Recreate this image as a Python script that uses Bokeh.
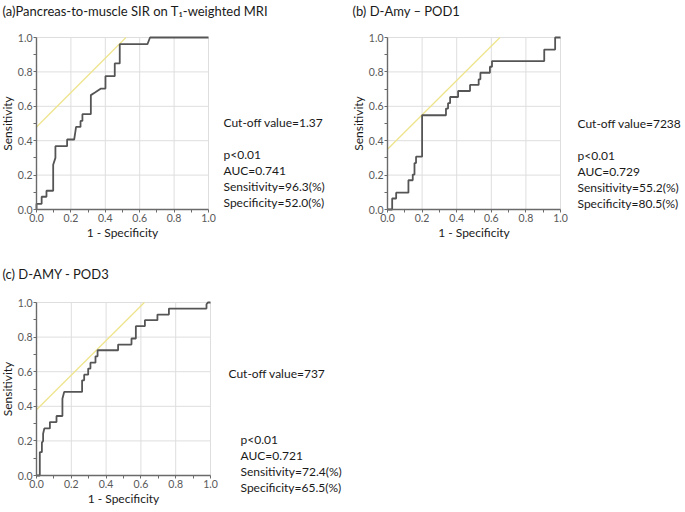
from bokeh.plotting import figure
from bokeh.models import Range1d, FixedTicker, Label
from bokeh.layouts import column, row
from bokeh.embed import file_html
from bokeh.resources import INLINE

# ---------------- data ----------------
tick_vals = [0.0, 0.2, 0.4, 0.6, 0.8, 1.0]
tick_labels = ["0.0", "0.2", "0.4", "0.6", "0.8", "1.0"]
minor_vals = [0.1, 0.3, 0.5, 0.7, 0.9]

x_label = "1 - Specificity"
y_label = "Sensitivity"

# panel (a)
a_title = "(a)Pancreas-to-muscle SIR on T\u2081-weighted MRI"
a_fpr = [0.0, 0.0, 0.03, 0.03, 0.058, 0.058, 0.097, 0.097, 0.11, 0.11, 0.178, 0.178,
         0.219, 0.225, 0.23, 0.256, 0.256, 0.267, 0.267, 0.316, 0.316, 0.34, 0.375,
         0.401, 0.401, 0.455, 0.455, 0.484, 0.484, 0.645, 0.66, 1.0]
a_tpr = [0.0, 0.033, 0.033, 0.074, 0.074, 0.109, 0.109, 0.26, 0.30, 0.368, 0.368, 0.407,
         0.407, 0.446, 0.48, 0.48, 0.515, 0.515, 0.554, 0.554, 0.665, 0.68, 0.703,
         0.703, 0.775, 0.775, 0.849, 0.849, 0.961, 0.961, 1.0, 1.0]
a_tan_x = [0.0, 0.52]
a_tan_y = [0.48, 1.0]
a_cutoff = "Cut-off value=1.37"
a_stats = ["p<0.01", "AUC=0.741", "Sensitivity=96.3(%)", "Specificity=52.0(%)"]

# panel (b)
b_title = "(b) D-Amy \u2013 POD1"
b_fpr = [0.0, 0.027, 0.027, 0.05, 0.05, 0.121, 0.121, 0.146, 0.146, 0.156, 0.156, 0.165,
         0.165, 0.2, 0.2, 0.338, 0.338, 0.35, 0.35, 0.362, 0.362, 0.408, 0.408, 0.477,
         0.477, 0.527, 0.527, 0.537, 0.537, 0.592, 0.592, 0.604, 0.604, 0.906, 0.906,
         0.969, 0.969, 1.0]
b_tpr = [0.0, 0.0, 0.064, 0.064, 0.098, 0.098, 0.17, 0.17, 0.203, 0.203, 0.27, 0.27,
         0.307, 0.307, 0.548, 0.548, 0.587, 0.587, 0.618, 0.618, 0.654, 0.654, 0.689,
         0.689, 0.724, 0.724, 0.757, 0.757, 0.795, 0.795, 0.83, 0.83, 0.863, 0.863,
         0.93, 0.93, 1.0, 1.0]
b_tan_x = [0.0, 0.65]
b_tan_y = [0.35, 1.0]
b_cutoff = "Cut-off value=7238"
b_stats = ["p<0.01", "AUC=0.729", "Sensitivity=55.2(%)", "Specificity=80.5(%)"]

# panel (c)
c_title = "(c) D-AMY - POD3"
c_fpr = [0.0, 0.019, 0.019, 0.031, 0.031, 0.038, 0.038, 0.045, 0.077, 0.077, 0.115,
         0.115, 0.149, 0.149, 0.159, 0.262, 0.262, 0.274, 0.274, 0.297, 0.297, 0.31,
         0.31, 0.339, 0.339, 0.351, 0.351, 0.469, 0.469, 0.546, 0.546, 0.571, 0.571,
         0.623, 0.623, 0.695, 0.695, 0.761, 0.761, 0.977, 0.977, 0.985, 1.0]
c_tpr = [0.0, 0.0, 0.135, 0.135, 0.19, 0.20, 0.241, 0.272, 0.272, 0.309, 0.309,
         0.344, 0.344, 0.444, 0.483, 0.483, 0.55, 0.55, 0.583, 0.583, 0.618, 0.618,
         0.652, 0.652, 0.689, 0.689, 0.724, 0.724, 0.757, 0.757, 0.792, 0.792, 0.863,
         0.863, 0.898, 0.898, 0.93, 0.93, 0.965, 0.965, 0.99, 1.0, 1.0]
c_tan_x = [0.0, 0.62]
c_tan_y = [0.38, 1.0]
c_cutoff = "Cut-off value=737"
c_stats = ["p<0.01", "AUC=0.721", "Sensitivity=72.4(%)", "Specificity=65.5(%)"]

# ---------------- styling ----------------
FONT = "Lato"
AXIS_COL = "#6a6a6a"
GRID_COL = "#dedede"
CURVE_COL = "#555555"
TAN_COL = "#eee48c"
TEXT_COL = "#1a1a1a"
TEXT_SIZE = "12px"
TITLE_SIZE = "13px"


def roc_panel(fpr, tpr, tx, ty, fig_w, fig_h, box, texts):
    """box = (left, top, width, height) of the unit square, in canvas pixels.
    The whole canvas is the frame; the axes are fixed at 0 and bounded to [0, 1]."""
    L, T, W, H = box
    x_rng = Range1d(-L / W, (fig_w - L) / W)
    y_rng = Range1d(-(fig_h - T - H) / H, (T + H) / H)
    p = figure(width=fig_w, height=fig_h, output_backend="svg", toolbar_location=None,
               tools="", x_range=x_rng, y_range=y_rng, min_border=0)
    p.background_fill_color = "white"
    p.border_fill_color = "white"
    p.outline_line_color = None
    p.xgrid.visible = False
    p.ygrid.visible = False

    # grid lines at the tick positions, kept inside the unit square
    gx = tick_vals[1:]
    p.segment(x0=gx, y0=[0] * len(gx), x1=gx, y1=[1] * len(gx),
              line_color=GRID_COL, line_width=1)
    p.segment(x0=[0] * len(gx), y0=gx, x1=[1] * len(gx), y1=gx,
              line_color=GRID_COL, line_width=1)

    ticker = FixedTicker(ticks=tick_vals, minor_ticks=minor_vals)
    for ax in (p.xaxis[0], p.yaxis[0]):
        ax.fixed_location = 0
        ax.bounds = (0, 1)
        ax.ticker = ticker
        ax.major_label_overrides = {v: l for v, l in zip(tick_vals, tick_labels)}
        ax.axis_line_color = AXIS_COL
        ax.axis_line_width = 1.4
        ax.major_tick_line_color = AXIS_COL
        ax.minor_tick_line_color = AXIS_COL
        ax.major_tick_in = 0
        ax.major_tick_out = 3
        ax.minor_tick_in = 0
        ax.minor_tick_out = 3
        ax.major_label_text_font = FONT
        ax.major_label_text_font_size = "10.5px"
        ax.major_label_text_color = "#595959"
        ax.major_label_standoff = 1
        ax.axis_label_text_font = FONT
        ax.axis_label_text_font_size = TEXT_SIZE
        ax.axis_label_text_font_style = "normal"
        ax.axis_label_text_color = TEXT_COL
        ax.axis_label_standoff = 0
    p.xaxis.axis_label = x_label
    p.yaxis.axis_label = y_label

    p.line(tx, ty, line_color=TAN_COL, line_width=1.3)
    p.line(fpr, tpr, line_color=CURVE_COL, line_width=1.8)

    # texts placed by canvas pixel position (x right, y down)
    for (cx, cy, txt, size) in texts:
        p.add_layout(Label(x=(cx - L) / W, y=(T + H - cy) / H, text=txt,
                           text_font=FONT, text_font_size=size, text_color=TEXT_COL,
                           text_align="left", text_baseline="middle"))
    return p


def panel_texts(title_xy, cut_xy, stats_xy, gap, title, cutoff, stats):
    items = [(title_xy[0], title_xy[1], title, TITLE_SIZE),
             (cut_xy[0], cut_xy[1], cutoff, TEXT_SIZE)]
    for i, s in enumerate(stats):
        items.append((stats_xy[0], stats_xy[1] + i * gap, s, TEXT_SIZE))
    return items


# panel (a): canvas x 0..340, y 0..244
pa = roc_panel(a_fpr, a_tpr, a_tan_x, a_tan_y, 340, 244, (36, 37, 172, 172),
               panel_texts((2, 10), (223, 122), (223, 154), 16, a_title, a_cutoff, a_stats))

# panel (b): canvas x 340..683, y 0..244
pb = roc_panel(b_fpr, b_tpr, b_tan_x, b_tan_y, 343, 244, (47, 37, 173, 172),
               panel_texts((12, 10), (237, 123), (237, 155), 16, b_title, b_cutoff, b_stats))

# panel (c): canvas x 0..420, y 244..510
pc = roc_panel(c_fpr, c_tpr, c_tan_x, c_tan_y, 420, 266, (36, 58, 174, 173),
               panel_texts((2, 29), (228, 129), (240, 195), 16, c_title, c_cutoff, c_stats))

layout = column(row(pa, pb), pc)
open("out.html", "w").write(file_html(layout, INLINE))
